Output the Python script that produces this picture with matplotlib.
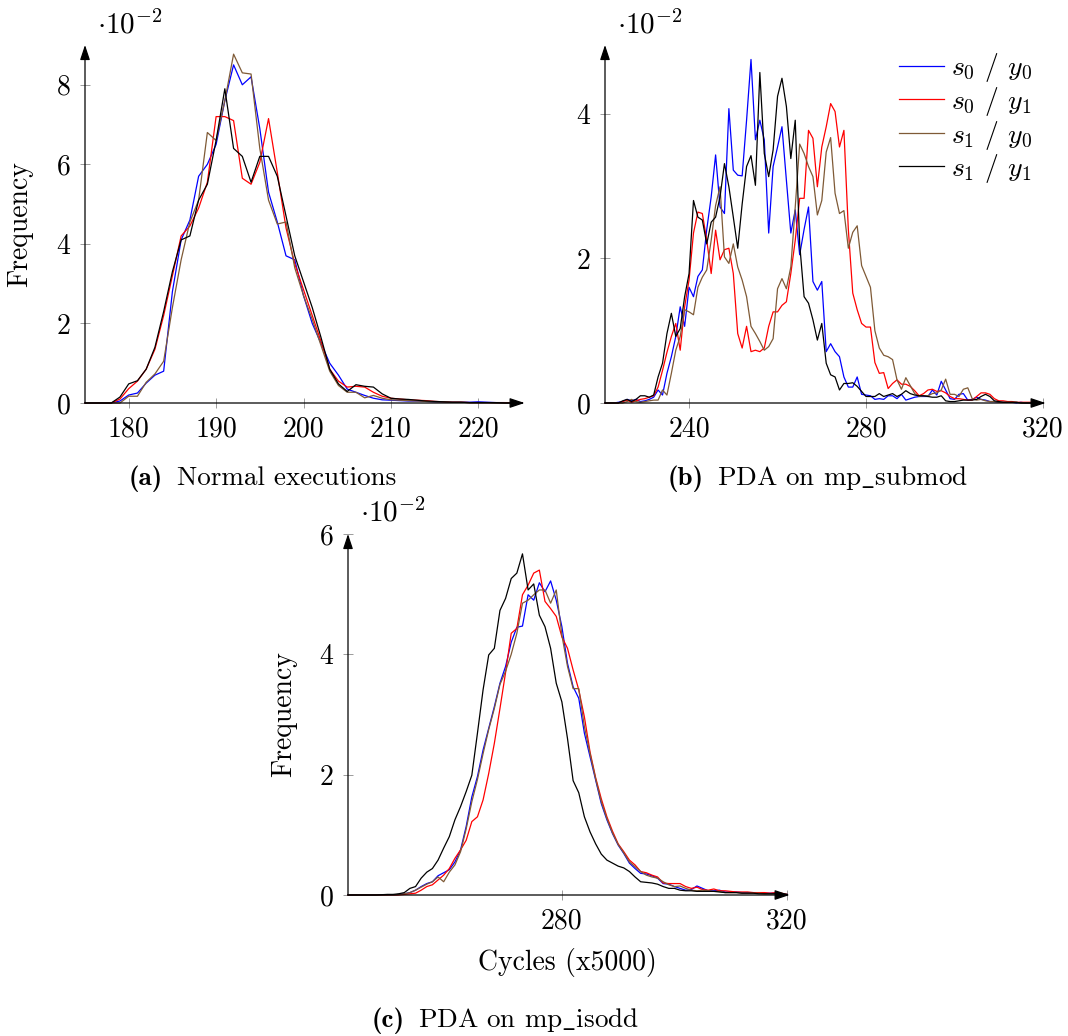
"""Timing histograms: normal executions vs. PDA on mp_submod / mp_isodd."""
import matplotlib
matplotlib.use('Agg')
import matplotlib.pyplot as plt
import numpy as np

# ======== Data (frequency, x1e-2) ========
x_a = np.arange(175, 226)
blue_a = [0, 0, 0, 0, 0.05, 0.2, 0.25, 0.5, 0.7, 0.8,
          2.8, 4.1, 4.6, 5.7, 6.0, 6.5, 7.6, 8.5, 8.0, 8.2,
          6.9, 5.3, 4.55, 3.7, 3.6, 2.7, 2.0, 1.5, 1.0, 0.7,
          0.35, 0.27, 0.19, 0.12, 0.08, 0.07, 0.06, 0.05, 0.05, 0.04,
          0.03, 0.03, 0.02, 0.02, 0.02, 0.03, 0.02, 0.01, 0.01, 0.0,
          0.0]
red_a = [0, 0, 0, 0, 0.1, 0.36, 0.55, 0.85, 1.35, 2.2,
         3.2, 4.2, 4.45, 4.9, 5.55, 7.2, 7.2, 7.1, 5.65, 5.5,
         6.05, 7.15, 5.8, 4.4, 3.5, 2.85, 2.2, 1.55, 0.85, 0.55,
         0.4, 0.42, 0.4, 0.27, 0.17, 0.12, 0.1, 0.08, 0.07, 0.06,
         0.04, 0.03, 0.02, 0.02, 0.01, 0.01, 0.01, 0.01, 0.01, 0.01,
         0.01]
brown_a = [0, 0, 0, 0, 0, 0.17, 0.17, 0.52, 0.73, 1.05,
           2.4, 3.6, 4.55, 5.1, 6.8, 6.6, 7.6, 8.77, 8.3, 8.27,
           6.4, 5.1, 4.5, 4.55, 3.4, 2.7, 2.1, 1.45, 0.8, 0.44,
           0.27, 0.27, 0.13, 0.19, 0.12, 0.08, 0.07, 0.06, 0.05, 0.04,
           0.03, 0.03, 0.02, 0.02, 0.01, 0.01, 0.01, 0.0, 0.0, 0.0,
           0.0]
black_a = [0, 0, 0, 0, 0.15, 0.48, 0.56, 0.85, 1.4, 2.3,
           3.3, 4.1, 4.2, 5.1, 5.5, 6.6, 7.9, 6.4, 6.2, 5.55,
           6.2, 6.2, 5.7, 4.7, 3.7, 3.05, 2.4, 1.65, 0.85, 0.48,
           0.29, 0.46, 0.42, 0.4, 0.23, 0.12, 0.1, 0.09, 0.07, 0.05,
           0.04, 0.03, 0.02, 0.02, 0.01, 0.01, 0.01, 0.01, 0.0, 0.0,
           0.0]

x_b = np.arange(221, 321)
blue_b = [0, 0, 0, 0.01, 0.02, 0.05, 0.03, 0.05, 0.02, 0.03,
          0.05, 0.08, 0.18, 0.11, 0.41, 0.64, 0.92, 1.33, 1.06, 1.6,
          1.47, 1.75, 1.84, 2.4, 2.85, 3.43, 2.71, 2.62, 4.07, 3.22,
          3.15, 3.14, 3.91, 4.75, 3.64, 3.91, 3.64, 2.35, 3.27, 3.54,
          3.82, 3.08, 2.35, 2.67, 2.05, 2.4, 2.71, 1.68, 1.56, 1.68,
          0.71, 0.82, 0.71, 0.64, 0.36, 0.22, 0.22, 0.36, 0.12, 0.11,
          0.1, 0.05, 0.06, 0.05, 0.1, 0.1, 0.06, 0.12, 0.04, 0.06,
          0.08, 0.09, 0.09, 0.09, 0.18, 0.11, 0.3, 0.18, 0.06, 0.05,
          0.12, 0.13, 0.04, 0.05, 0.08, 0.05, 0.04, 0.02, 0.02, 0.01,
          0.01, 0.01, 0.01, 0, 0.01, 0, 0, 0, 0, 0]
red_b = [0, 0, 0, 0, 0.02, 0.04, 0.01, 0.03, 0.05, 0.06,
         0.08, 0.1, 0.22, 0.45, 0.7, 0.92, 1.1, 0.73, 1.33, 1.7,
         2.35, 2.64, 2.62, 2.25, 1.79, 2.39, 1.98, 2.12, 2.14, 1.79,
         0.96, 0.76, 1.06, 0.71, 0.73, 0.71, 0.76, 1.06, 1.26, 1.26,
         1.35, 1.4, 1.79, 2.25, 2.83, 2.83, 3.77, 3.66, 2.99, 3.54,
         3.82, 4.14, 4.03, 3.54, 3.77, 2.4, 1.52, 1.29, 1.1, 1.05,
         1.05, 0.56, 0.41, 0.42, 0.2, 0.27, 0.32, 0.26, 0.26, 0.23,
         0.17, 0.1, 0.13, 0.18, 0.19, 0.16, 0.17, 0.14, 0.09, 0.06,
         0.06, 0.05, 0.04, 0.04, 0.09, 0.14, 0.14, 0.12, 0.06, 0.03,
         0.03, 0.02, 0.02, 0.01, 0.01, 0.01, 0.01, 0.01, 0.0, 0.0]
brown_b = [0, 0, 0, 0, 0, 0.02, 0.05, 0.02, 0.01, 0.02,
           0.03, 0.04, 0.04, 0.18, 0.11, 0.41, 0.73, 0.92, 1.29, 1.26,
           1.22, 1.6, 1.74, 1.84, 2.25, 2.73, 2.99, 2.02, 1.93, 2.2,
           1.88, 1.7, 1.47, 1.06, 0.96, 0.85, 0.73, 0.78, 0.89, 1.58,
           1.72, 1.58, 1.88, 2.71, 3.58, 3.45, 3.27, 3.13, 2.6, 2.8,
           3.47, 3.67, 2.9, 2.62, 2.66, 2.14, 2.36, 2.45, 1.9, 1.75,
           1.6, 1.0, 0.76, 0.66, 0.64, 0.6, 0.32, 0.19, 0.35, 0.24,
           0.13, 0.09, 0.1, 0.1, 0.13, 0.14, 0.18, 0.33, 0.12, 0.12,
           0.09, 0.19, 0.21, 0.06, 0.04, 0.05, 0.03, 0.02, 0.02, 0.01,
           0.01, 0.01, 0.01, 0.01, 0.0, 0.0, 0.0, 0.0, 0.0, 0.0]
black_b = [0, 0, 0, 0, 0.03, 0.05, 0.02, 0.05, 0.1, 0.1,
           0.08, 0.11, 0.36, 0.55, 0.96, 1.24, 0.92, 1.03, 1.47, 1.79,
           2.8, 2.57, 2.53, 2.2, 2.5, 2.57, 2.85, 3.31, 2.99, 2.57,
           2.14, 2.75, 3.27, 3.42, 3.01, 4.57, 3.45, 3.13, 3.5, 4.24,
           4.49, 4.1, 3.38, 3.91, 2.2, 1.47, 1.38, 1.15, 0.87, 1.1,
           0.55, 0.39, 0.36, 0.18, 0.27, 0.27, 0.28, 0.23, 0.16, 0.09,
           0.09, 0.09, 0.13, 0.09, 0.11, 0.13, 0.09, 0.12, 0.17, 0.13,
           0.11, 0.1, 0.1, 0.09, 0.08, 0.08, 0.1, 0.03, 0.02, 0.02,
           0.03, 0.04, 0.04, 0.04, 0.05, 0.09, 0.12, 0.09, 0.03, 0.02,
           0.01, 0.01, 0.01, 0.01, 0.0, 0.0, 0.0, 0.0, 0.0, 0.0]

x_c = np.arange(242, 321)
blue_c = [0, 0, 0, 0, 0, 0, 0, 0, 0, 0.01,
          0.02, 0.04, 0.08, 0.14, 0.19, 0.22, 0.32, 0.37, 0.42, 0.55,
          0.75, 1.14, 1.63, 1.97, 2.41, 2.77, 3.13, 3.52, 3.8, 4.2,
          4.45, 4.47, 4.99, 4.9, 5.19, 5.04, 5.22, 4.9, 4.46, 3.85,
          3.46, 3.27, 2.69, 2.3, 1.91, 1.52, 1.25, 1.02, 0.83, 0.69,
          0.53, 0.44, 0.36, 0.35, 0.32, 0.28, 0.19, 0.18, 0.14, 0.11,
          0.08, 0.09, 0.15, 0.11, 0.07, 0.07, 0.08, 0.05, 0.05, 0.05,
          0.04, 0.04, 0.04, 0.03, 0.03, 0.03, 0.03, 0.02, 0.01]
red_c = [0, 0, 0, 0, 0, 0, 0, 0, 0, 0,
         0.01, 0.02, 0.03, 0.08, 0.14, 0.17, 0.25, 0.33, 0.44, 0.61,
         0.75, 0.91, 1.22, 1.3, 1.58, 2.02, 2.52, 3.1, 3.7, 4.35,
         4.43, 4.99, 5.15, 5.35, 5.4, 4.88, 4.76, 4.63, 4.29, 4.1,
         3.74, 3.41, 2.96, 2.38, 1.95, 1.6, 1.3, 1.06, 0.85, 0.72,
         0.58, 0.5, 0.39, 0.37, 0.33, 0.3, 0.2, 0.19, 0.19, 0.19,
         0.14, 0.11, 0.13, 0.09, 0.08, 0.1, 0.07, 0.07, 0.06, 0.05,
         0.05, 0.05, 0.04, 0.04, 0.04, 0.03, 0.04, 0.03, 0.01]
brown_c = [0, 0, 0, 0, 0, 0, 0, 0, 0, 0.01,
           0.02, 0.04, 0.08, 0.13, 0.18, 0.22, 0.3, 0.22, 0.38, 0.5,
           0.72, 1.1, 1.55, 1.92, 2.35, 2.75, 3.1, 3.5, 3.72, 4.0,
           4.35, 4.85, 4.9, 4.99, 5.07, 5.07, 4.85, 5.07, 4.32, 3.8,
           3.43, 3.43, 2.8, 2.35, 1.93, 1.55, 1.27, 1.03, 0.84, 0.7,
           0.55, 0.47, 0.39, 0.33, 0.3, 0.28, 0.22, 0.17, 0.14, 0.15,
           0.11, 0.08, 0.07, 0.08, 0.07, 0.06, 0.06, 0.04, 0.04, 0.04,
           0.03, 0.03, 0.03, 0.03, 0.02, 0.02, 0.02, 0.02, 0.01]
black_c = [0, 0, 0, 0, 0, 0, 0.005, 0.01, 0.01, 0.02,
           0.04, 0.11, 0.14, 0.28, 0.38, 0.44, 0.58, 0.78, 0.97, 1.25,
           1.47, 1.72, 1.99, 2.69, 3.41, 3.99, 4.1, 4.73, 4.93, 5.26,
           5.35, 5.67, 5.07, 5.17, 4.65, 4.46, 4.1, 3.52, 3.21, 2.6,
           1.9, 1.7, 1.3, 1.05, 0.85, 0.68, 0.58, 0.53, 0.48, 0.45,
           0.39, 0.3, 0.22, 0.21, 0.2, 0.18, 0.14, 0.11, 0.11, 0.08,
           0.07, 0.07, 0.06, 0.06, 0.06, 0.06, 0.05, 0.04, 0.04, 0.04,
           0.03, 0.03, 0.03, 0.02, 0.02, 0.02, 0.02, 0.01, 0.01]

labels = [r'$s_0$ / $y_0$', r'$s_0$ / $y_1$', r'$s_1$ / $y_0$', r'$s_1$ / $y_1$']
colors = ['#0000ff', '#ff0000', '#7f5a36', '#000000']

# ======== Style ========
plt.rcParams.update({
    'font.family': 'serif', 'font.serif': ['cmr10'],
    'mathtext.fontset': 'cm', 'axes.formatter.use_mathtext': True,
    'font.size': 20,
})
FS = 20

W, H = 1068, 1036
fig = plt.figure(figsize=(W / 100, H / 100), dpi=100)


def add_axes(left, right, bottom, top):
    return fig.add_axes([left / W, 1 - bottom / H, (right - left) / W, (bottom - top) / H])


def style(ax, xlim, ylim, xticks, yticks):
    ax.set_xlim(*xlim); ax.set_ylim(*ylim)
    for s in ['top', 'right', 'left', 'bottom']:
        ax.spines[s].set_visible(False)
    ax.set_xticks(xticks); ax.set_yticks(yticks)
    ax.set_xticklabels([str(t) for t in xticks]); ax.set_yticklabels([str(t) for t in yticks])
    ax.tick_params(direction='inout', length=7, width=0.6, color='#8c8c8c',
                   labelsize=FS, labelcolor='black')
    ax.tick_params(axis='x', pad=6)
    ax.tick_params(axis='y', pad=7)
    arrow = dict(arrowstyle='-|>,head_length=0.45,head_width=0.15', lw=0.9, color='k',
                 shrinkA=0, shrinkB=0)
    ax.annotate('', xy=(1.006, 0), xytext=(0, 0), xycoords='axes fraction', arrowprops=arrow,
                annotation_clip=False)
    ax.annotate('', xy=(0, 1.0), xytext=(0, 0), xycoords='axes fraction', arrowprops=arrow,
                annotation_clip=False)


def draw(ax, x, series):
    for ys, c, lab in zip(series, colors, labels):
        ax.plot(x, ys, color=c, lw=0.9, label=lab, clip_on=False)


# ---- (a) Normal executions ----
ax_a = add_axes(85, 522, 403, 45)
draw(ax_a, x_a, [blue_a, red_a, brown_a, black_a])
style(ax_a, (175, 225), (0, 9.0), [180, 190, 200, 210, 220], [0, 2, 4, 6, 8])
ax_a.set_ylabel('Frequency', fontsize=FS)
ax_a.yaxis.set_label_coords(-0.119, 0.5)

# ---- (b) PDA on mp_submod ----
ax_b = add_axes(605, 1043, 403, 45)
draw(ax_b, x_b, [blue_b, red_b, brown_b, black_b])
style(ax_b, (221, 320), (0, 4.95), [240, 280, 320], [0, 2, 4])
ax_b.legend(loc='upper right', frameon=False, fontsize=FS, handlelength=1.62,
            handletextpad=0.25, labelspacing=0.02, borderaxespad=0, borderpad=0,
            bbox_to_anchor=(0.975, 0.982))

# ---- (c) PDA on mp_isodd ----
ax_c = add_axes(348, 787, 895, 534)
draw(ax_c, x_c, [blue_c, red_c, brown_c, black_c])
style(ax_c, (242, 320), (0, 6), [280, 320], [0, 2, 4, 6])
ax_c.set_ylabel('Frequency', fontsize=FS)
ax_c.yaxis.set_label_coords(-0.116, 0.5)
ax_c.set_xlabel('Cycles (x5000)', fontsize=FS)
ax_c.xaxis.set_label_coords(0.5, -0.148)

# ---- scale factors ----
for px, py in [(97, 33), (617, 33), (360, 522)]:
    fig.text(px / W, 1 - py / H, r'$\cdot 10^{-2}$', fontsize=21, va='baseline')

# ---- captions ----
captions = [(129, 177, 485, '(a)', 'Normal executions'),
            (668, 717, 485, '(b)', r'PDA on mp$\_$submod'),
            (372, 418, 1027, '(c)', r'PDA on mp$\_$isodd')]
for px, tx, py, tag, text in captions:
    fig.text(px / W, 1 - py / H, tag, fontsize=19.5, family='cmb10', va='baseline')
    fig.text(tx / W, 1 - py / H, text, fontsize=19.5, va='baseline')

fig.savefig('out.png', dpi=100)
